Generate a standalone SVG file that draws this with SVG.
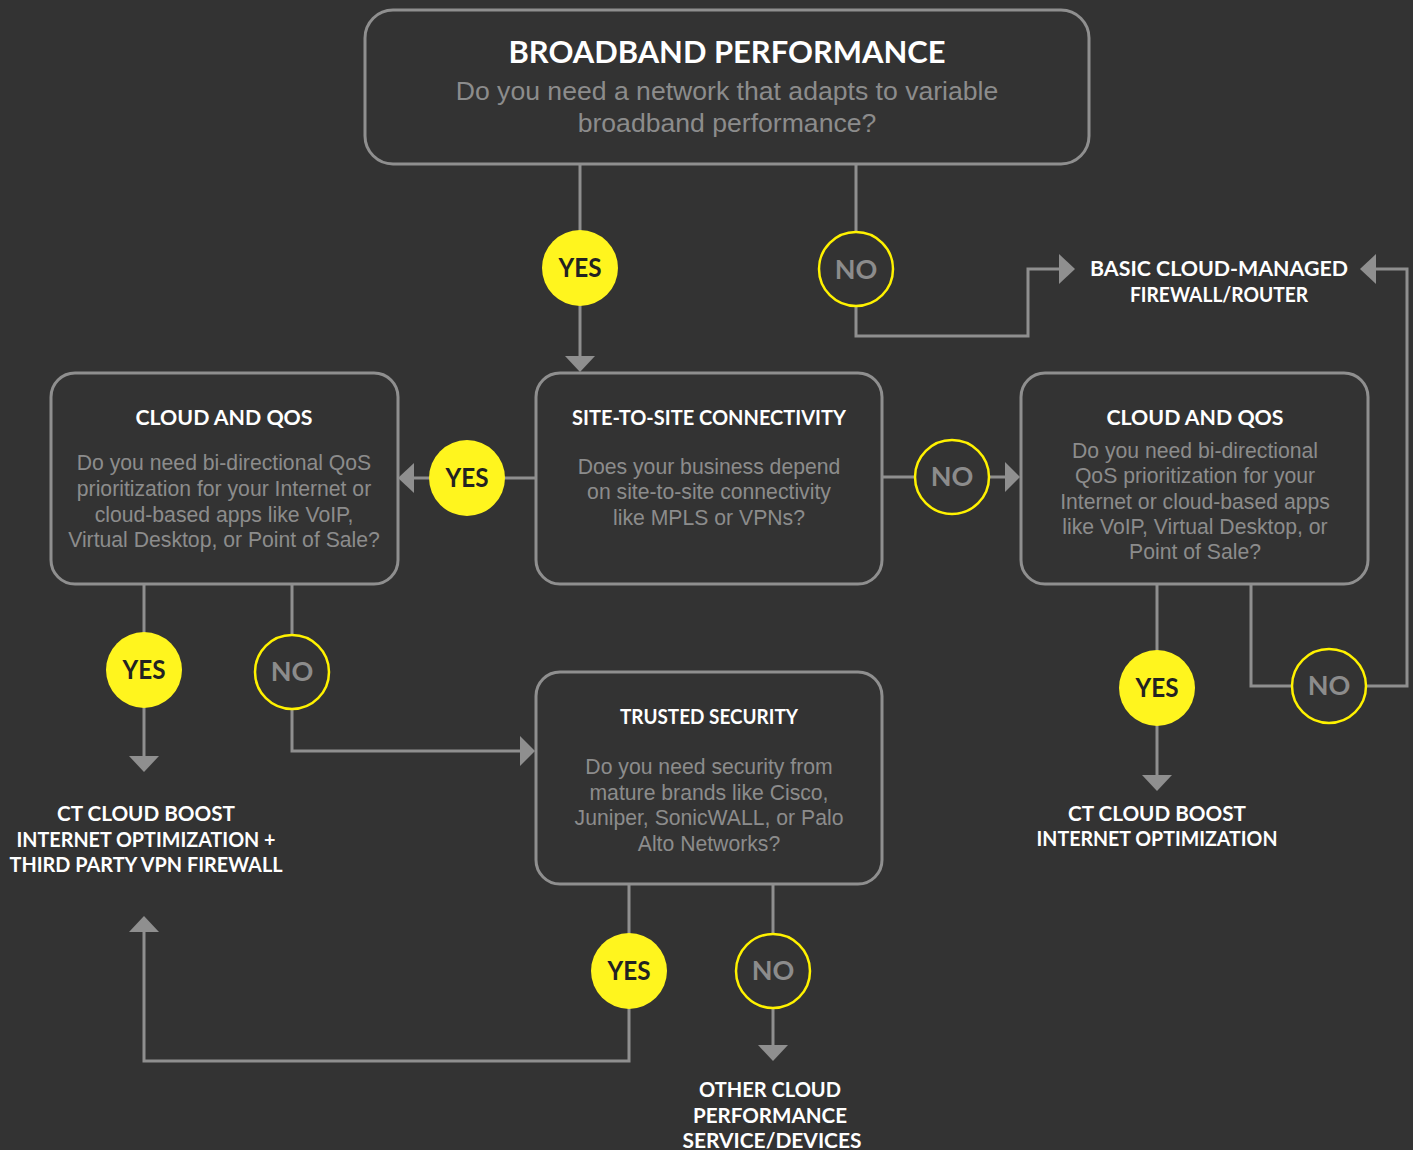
<svg xmlns="http://www.w3.org/2000/svg" width="1413" height="1150" viewBox="0 0 1413 1150">
<defs>
<style>
.bg{fill:#333333}
.box{fill:#333333;stroke:#8f8f8f;stroke-width:3}
.ln{fill:none;stroke:#8f8f8f;stroke-width:3}
.ah{fill:#8f8f8f}
.yes{fill:#fff51e}
.no{fill:#333333;stroke:#fff200;stroke-width:2.5}
.t{font-family:Lato,"Open Sans","DejaVu Sans",sans-serif;font-weight:bold;fill:#ffffff;text-anchor:middle}
.q{font-family:"Liberation Sans",Arial,sans-serif;fill:#8c8c8c;text-anchor:middle;font-size:21.2px}
.cy{font-family:Lato,"Open Sans",sans-serif;font-weight:bold;font-size:27px;fill:#222222;text-anchor:middle}
.cn{font-family:Lato,"Open Sans",sans-serif;font-weight:bold;font-size:27px;fill:#8c8c8c;text-anchor:middle}
</style>
</defs>
<rect class="bg" x="0" y="0" width="1413" height="1150"/>

<g id="connectors">
<line class="ln" x1="580" y1="165" x2="580" y2="358"/>
<polygon class="ah" points="565,356 595,356 580,372"/>
<polyline class="ln" points="856,165 856,336 1028,336 1028,269 1061,269"/>
<polygon class="ah" points="1059,254 1059,284 1075,269"/>
<polyline class="ln" points="1251,585 1251,686 1407,686 1407,269 1374,269"/>
<polygon class="ah" points="1376,254 1376,284 1360,269"/>
<line class="ln" x1="536" y1="478" x2="412" y2="478"/>
<polygon class="ah" points="414,463 414,493 398,478"/>
<line class="ln" x1="882" y1="477" x2="1007" y2="477"/>
<polygon class="ah" points="1005,462 1005,492 1020,477"/>
<line class="ln" x1="144" y1="585" x2="144" y2="758"/>
<polygon class="ah" points="129,756 159,756 144,772"/>
<polyline class="ln" points="292,585 292,751 522,751"/>
<polygon class="ah" points="520,736 520,766 535,751"/>
<line class="ln" x1="1157" y1="585" x2="1157" y2="777"/>
<polygon class="ah" points="1142,775 1172,775 1157,791"/>
<polyline class="ln" points="629,885 629,1061 144,1061 144,930"/>
<polygon class="ah" points="129,932 159,932 144,916"/>
<line class="ln" x1="773" y1="885" x2="773" y2="1047"/>
<polygon class="ah" points="758,1045 788,1045 773,1061"/>
</g>

<g id="node-broadband">
<rect class="box" x="365" y="10" width="724" height="154" rx="28"/>
<text class="t" x="727" y="63" font-size="30" textLength="437" lengthAdjust="spacingAndGlyphs">BROADBAND PERFORMANCE</text>
<text class="q" x="727" y="100" style="font-size:26.6px">Do you need a network that adapts to variable</text>
<text class="q" x="727" y="132" style="font-size:26.6px">broadband performance?</text>
</g>

<g id="node-site">
<rect class="box" x="536" y="373" width="346" height="211" rx="24"/>
<text class="t" x="709" y="425" font-size="20" textLength="274" lengthAdjust="spacingAndGlyphs">SITE-TO-SITE CONNECTIVITY</text>
<text class="q" x="709" y="474">Does your business depend</text>
<text class="q" x="709" y="499">on site-to-site connectivity</text>
<text class="q" x="709" y="525">like MPLS or VPNs?</text>
</g>

<g id="node-cloud-left">
<rect class="box" x="51" y="373" width="347" height="211" rx="24"/>
<text class="t" x="224" y="425" font-size="20" textLength="177" lengthAdjust="spacingAndGlyphs">CLOUD AND QOS</text>
<text class="q" x="224" y="470">Do you need bi-directional QoS</text>
<text class="q" x="224" y="496">prioritization for your Internet or</text>
<text class="q" x="224" y="522">cloud-based apps like VoIP,</text>
<text class="q" x="224" y="547">Virtual Desktop, or Point of Sale?</text>
</g>

<g id="node-cloud-right">
<rect class="box" x="1021" y="373" width="347" height="211" rx="24"/>
<text class="t" x="1195" y="425" font-size="20" textLength="177" lengthAdjust="spacingAndGlyphs">CLOUD AND QOS</text>
<text class="q" x="1195" y="458">Do you need bi-directional</text>
<text class="q" x="1195" y="483">QoS prioritization for your</text>
<text class="q" x="1195" y="509">Internet or cloud-based apps</text>
<text class="q" x="1195" y="534">like VoIP, Virtual Desktop, or</text>
<text class="q" x="1195" y="559">Point of Sale?</text>
</g>

<g id="node-trusted">
<rect class="box" x="536" y="672" width="346" height="212" rx="24"/>
<text class="t" x="709" y="724" font-size="20" textLength="178" lengthAdjust="spacingAndGlyphs">TRUSTED SECURITY</text>
<text class="q" x="709" y="774">Do you need security from</text>
<text class="q" x="709" y="800">mature brands like Cisco,</text>
<text class="q" x="709" y="825">Juniper, SonicWALL, or Palo</text>
<text class="q" x="709" y="851">Alto Networks?</text>
</g>

<g id="node-basic">
<text class="t" x="1219" y="276" font-size="20" textLength="258" lengthAdjust="spacingAndGlyphs">BASIC CLOUD-MANAGED</text>
<text class="t" x="1219" y="302" font-size="20" textLength="178" lengthAdjust="spacingAndGlyphs">FIREWALL/ROUTER</text>
</g>

<g id="node-ctboost-vpn">
<text class="t" x="146" y="821" font-size="20" textLength="178" lengthAdjust="spacingAndGlyphs">CT CLOUD BOOST</text>
<text class="t" x="146" y="847" font-size="20" textLength="259" lengthAdjust="spacingAndGlyphs">INTERNET OPTIMIZATION +</text>
<text class="t" x="146" y="872" font-size="20" textLength="273" lengthAdjust="spacingAndGlyphs">THIRD PARTY VPN FIREWALL</text>
</g>

<g id="node-ctboost">
<text class="t" x="1157" y="821" font-size="20" textLength="178" lengthAdjust="spacingAndGlyphs">CT CLOUD BOOST</text>
<text class="t" x="1157" y="846" font-size="20" textLength="241" lengthAdjust="spacingAndGlyphs">INTERNET OPTIMIZATION</text>
</g>

<g id="node-other">
<text class="t" x="770" y="1097" font-size="20" textLength="142" lengthAdjust="spacingAndGlyphs">OTHER CLOUD</text>
<text class="t" x="770" y="1123" font-size="20" textLength="154" lengthAdjust="spacingAndGlyphs">PERFORMANCE</text>
<text class="t" x="772" y="1148" font-size="20" textLength="179" lengthAdjust="spacingAndGlyphs">SERVICE/DEVICES</text>
</g>

<g id="yes-1"><circle class="yes" cx="580" cy="268" r="38"/><text class="cy" x="580" y="277" textLength="43" lengthAdjust="spacingAndGlyphs">YES</text></g>
<g id="no-1"><circle class="no" cx="856" cy="269" r="37"/><text class="cn" x="856" y="279">NO</text></g>
<g id="yes-2"><circle class="yes" cx="467" cy="478" r="38"/><text class="cy" x="467" y="487" textLength="43" lengthAdjust="spacingAndGlyphs">YES</text></g>
<g id="no-2"><circle class="no" cx="952" cy="477" r="37"/><text class="cn" x="952" y="486">NO</text></g>
<g id="yes-3"><circle class="yes" cx="144" cy="670" r="38"/><text class="cy" x="144" y="679" textLength="43" lengthAdjust="spacingAndGlyphs">YES</text></g>
<g id="no-3"><circle class="no" cx="292" cy="672" r="37"/><text class="cn" x="292" y="681">NO</text></g>
<g id="yes-4"><circle class="yes" cx="1157" cy="688" r="38"/><text class="cy" x="1157" y="697" textLength="43" lengthAdjust="spacingAndGlyphs">YES</text></g>
<g id="no-4"><circle class="no" cx="1329" cy="686" r="37"/><text class="cn" x="1329" y="695">NO</text></g>
<g id="yes-5"><circle class="yes" cx="629" cy="971" r="38"/><text class="cy" x="629" y="980" textLength="43" lengthAdjust="spacingAndGlyphs">YES</text></g>
<g id="no-5"><circle class="no" cx="773" cy="971" r="37"/><text class="cn" x="773" y="980">NO</text></g>
</svg>
